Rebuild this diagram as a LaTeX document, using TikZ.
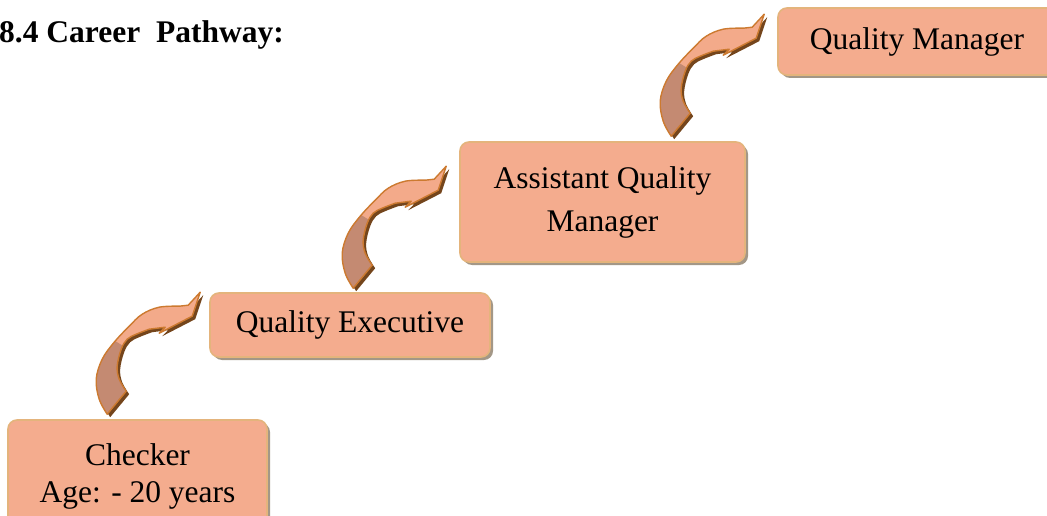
\documentclass[tikz,border=0pt]{standalone}
\usepackage{fontspec}
\setmainfont{Liberation Serif}
\usetikzlibrary{calc,shadows}
\definecolor{boxfill}{HTML}{F4AC8E}
\definecolor{boxline}{HTML}{E4B47C}
\definecolor{shadowc}{HTML}{A39787}
\definecolor{arrlight}{HTML}{F3AA8A}
\definecolor{arrdark}{HTML}{C48A72}
\definecolor{arrline}{HTML}{CC7A30}
\definecolor{arrdepth}{HTML}{74451C}
\tikzset{
  stepbox/.style={draw=boxline, line width=1.6pt, fill=boxfill, rounded corners=9pt,
    inner sep=0pt, align=center, font=\fontsize{31.5}{37}\selectfont,
    drop shadow={shadow xshift=3pt, shadow yshift=-3pt, fill=shadowc, opacity=1}},
  arrowshape/.style={insert path={
    (-93,122) -- plot[smooth, tension=0.6] coordinates {(-93,122) (-101,107) (-104,87) (-98,67) (-86,50) (-71,34) (-58,22) (-41,15) (-21,14)}
    -- (-12,13) -- (0,0) -- (-8,24) -- (-41,41) -- (-35,35)
    -- plot[smooth, tension=0.6] coordinates {(-51,37) (-64,42) (-73,47) (-79,57) (-83,74) (-81,87) (-74,99)}
    -- cycle}},
  curlarrow/.pic={
    \begin{scope}[shift={(3,3)}]
      \fill[arrdepth, arrowshape];
    \end{scope}
    \begin{scope}
      \path[clip, arrowshape];
      \fill[arrlight] (-120,-10) rectangle (10,130);
      \fill[arrdark] (-120,130) -- (-120,48) -- (-88,47) -- (-70,58) -- (-60,130) -- cycle;
    \end{scope}
    \draw[arrline, line width=1.4pt, line join=round, arrowshape];
  }
}
\begin{document}
\begin{tikzpicture}[x=1pt,y=-1pt]
\useasboundingbox (0,0) rectangle (1047,516);
\clip (0,0) rectangle (1047,516);
\node[anchor=base west, font=\bfseries\fontsize{31.5}{37}\selectfont, inner sep=0pt] (title) at (-1,43) {8.4 Career\ \ Pathway:};
\node[stepbox, minimum width=259pt, minimum height=112pt] (checker) at (137.5,476) {Checker\\Age: - 20 years};
\node[stepbox, minimum width=280pt, minimum height=64pt] (exec) at (350,325) {Quality Executive};
\node[stepbox, minimum width=285pt, minimum height=120pt, font=\fontsize{31.5}{43}\selectfont] (aqm) at (602.5,202) {Assistant Quality\\Manager};
\node[stepbox, minimum width=278pt, minimum height=67pt] (qm) at (917,41.5) {Quality Manager};
\pic at ($(exec.north west)+(-9,0)$) {curlarrow};
\pic at ($(aqm.north west)+(-13,25)$) {curlarrow};
\pic at ($(qm.north west)+(-13,7)$) {curlarrow};
\end{tikzpicture}
\end{document}
